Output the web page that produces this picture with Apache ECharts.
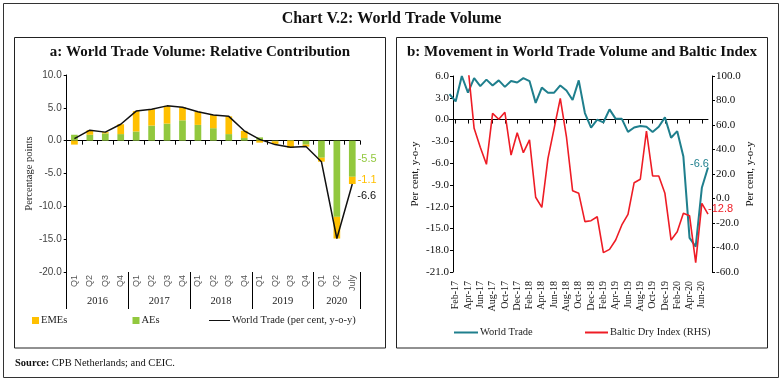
<!DOCTYPE html>
<html><head><meta charset="utf-8">
<script src="https://cdn.jsdelivr.net/npm/echarts@6/dist/echarts.min.js"></script>
<style>html,body{margin:0;padding:0;background:#fff}#c{width:783px;height:382px}</style>
</head><body><div id="c"></div>
<script>
// ---- Panel a data ----
const quarters = ['Q1','Q2','Q3','Q4','Q1','Q2','Q3','Q4','Q1','Q2','Q3','Q4','Q1','Q2','Q3','Q4','Q1','Q2','July'];
const years = ['2016','2017','2018','2019','2020'];
const yearSpans = [4,4,4,4,3];
const aes  = [0.9, 0.9, 1.1, 1.0, 1.4, 2.3, 2.6, 3.1, 2.4, 1.9, 1.0, 0.4, 0.5, -0.1, 0.1, -0.6, -2.6, -11.6, -5.5];
const emes = [-0.6, 0.7, 0.2, 1.5, 3.1, 2.5, 2.7, 2.0, 2.0, 2.0, 2.7, 1.1, -0.3, -0.4, -1.1, -0.3, -0.6, -3.3, -1.1];
const worldQ = [0.3, 1.6, 1.3, 2.5, 4.5, 4.8, 5.3, 5.1, 4.4, 3.9, 3.7, 1.5, 0.2, -0.6, -1.0, -0.9, -3.2, -14.9, -6.6];

// ---- Panel b data ----
const months = ['Jan-17','Feb-17','Mar-17','Apr-17','May-17','Jun-17','Jul-17','Aug-17','Sep-17','Oct-17','Nov-17','Dec-17',
  'Jan-18','Feb-18','Mar-18','Apr-18','May-18','Jun-18','Jul-18','Aug-18','Sep-18','Oct-18','Nov-18','Dec-18',
  'Jan-19','Feb-19','Mar-19','Apr-19','May-19','Jun-19','Jul-19','Aug-19','Sep-19','Oct-19','Nov-19','Dec-19',
  'Jan-20','Feb-20','Mar-20','Apr-20','May-20','Jun-20','Jul-20'];
const worldTrade = [3.5, 2.5, 6.0, 3.7, 5.7, 4.6, 5.5, 4.7, 5.4, 4.5, 5.3, 5.1,
  5.7, 5.3, 2.3, 4.4, 3.7, 3.7, 4.7, 4.0, 2.7, 5.4, 0.9, -1.1,
  0.0, -0.4, 1.4, 0.1, 0.1, -1.7, -1.1, -0.9, -1.0, -1.7, -1.0, 0.3,
  -2.5, -1.6, -5.1, -16.3, -17.5, -9.4, -6.6];
const baltic = [140, 140, 195, 108, 57.3, 41.8, 27.9, 69.5, 64.7, 70.4, 35.5, 53.7,
  37.4, 47.8, 1.0, -7.2, 32.8, 57.3, 81.8, 50.4, 6.4, 4.2, -18.9, -18.1,
  -14.9, -44.2, -41.5, -33.9, -21.6, -12.9, 12.9, 15.7, 55.1, 18.4, 18.4, 4.2,
  -33.9, -27.1, -12.1, -14.0, -52.4, -4.0, -12.8];

const SERIF = '"Liberation Serif", "DejaVu Serif", serif';
const SANS = '"Liberation Sans", Arial, sans-serif';
const GREEN = '#92C83E', ORANGE = '#FFC000', TEAL = '#1F7F8D', RED = '#EE1C25';

const yearCenters = [];
(function(){ let s = 0; yearSpans.forEach(n => { yearCenters.push(s + n / 2); s += n; }); })();
const yearBounds = [];
(function(){ let s = 0; yearSpans.forEach(n => { yearBounds.push(s); s += n; }); })();

const lastQ = quarters.length - 1;
const chart = echarts.init(document.getElementById('c'), null, {renderer: 'canvas', width: 783, height: 382});

const legendText = {fontFamily: SERIF, fontSize: 10.5, color: '#222', padding: [0, 0, 0, -3]};

const option = {
  animation: false,
  backgroundColor: '#fff',
  graphic: [
    {type: 'rect', shape: {x: 3.5, y: 3.5, width: 775, height: 374}, style: {fill: 'none', stroke: '#333', lineWidth: 1}},
    {type: 'rect', shape: {x: 14.5, y: 37.5, width: 371, height: 310.5}, style: {fill: 'none', stroke: '#222', lineWidth: 1}},
    {type: 'rect', shape: {x: 396.5, y: 37.5, width: 371, height: 310.5}, style: {fill: 'none', stroke: '#222', lineWidth: 1}},
    {type: 'text', style: {text: 'Chart V.2: World Trade Volume', x: 391.5, y: 19, align: 'center', verticalAlign: 'middle', font: '600 16px ' + SERIF, fill: '#111'}},
    {type: 'text', style: {text: 'a: World Trade Volume: Relative Contribution', x: 200, y: 52, align: 'center', verticalAlign: 'middle', font: '600 15px ' + SERIF, fill: '#111'}},
    {type: 'text', style: {text: 'b: Movement in World Trade Volume and Baltic Index', x: 582, y: 52, align: 'center', verticalAlign: 'middle', font: '600 15px ' + SERIF, fill: '#111'}},
    {type: 'text', style: {text: '{b|Source:} CPB Netherlands; and CEIC.', x: 15, y: 363, verticalAlign: 'middle', font: '10.5px ' + SERIF, fill: '#111',
      rich: {b: {fontWeight: 'bold', fontFamily: SERIF, fontSize: 10.5, fill: '#111'}}}}
  ],
  grid: [
    {left: 66.7, top: 75, width: 293.3, height: 197},
    {left: 449.5, top: 76, width: 258.5, height: 196}
  ],
  legend: [
    {data: [{name: 'EMEs', icon: 'rect'}], left: 32, top: 315, padding: 0, itemWidth: 7, itemHeight: 7, selectedMode: false, textStyle: legendText},
    {data: [{name: 'AEs', icon: 'rect'}], left: 132.5, top: 315, padding: 0, itemWidth: 7, itemHeight: 7, selectedMode: false, textStyle: legendText},
    {data: [{name: 'World Trade (per cent, y-o-y)', icon: 'rect'}], left: 209, top: 315, padding: 0, itemWidth: 21, itemHeight: 1, selectedMode: false, textStyle: legendText},
    {data: [{name: 'World Trade', icon: 'rect'}], left: 454, top: 327, padding: 0, itemWidth: 24, itemHeight: 2, selectedMode: false, textStyle: legendText},
    {data: [{name: 'Baltic Dry Index (RHS)', icon: 'rect'}], left: 585, top: 327, padding: 0, itemWidth: 23, itemHeight: 2, selectedMode: false, textStyle: legendText}
  ],
  xAxis: [
    {gridIndex: 0, type: 'category', data: quarters, boundaryGap: true,
      axisLine: {onZero: true, onZeroAxisIndex: 0, lineStyle: {color: '#000', width: 1}},
      axisTick: {show: true, length: 4, interval: 0, lineStyle: {color: '#000'}},
      axisLabel: {show: false}, splitLine: {show: false}},
    {gridIndex: 0, type: 'category', data: quarters, boundaryGap: true, position: 'bottom',
      axisLine: {show: false, onZero: false},
      axisTick: {show: true, length: 37, interval: (i) => yearBounds.indexOf(i) >= 0, lineStyle: {color: '#000'}},
      axisLabel: {show: true, rotate: 90, margin: 3, interval: 0, fontFamily: SANS, fontSize: 9, color: '#555'},
      splitLine: {show: false}},
    {gridIndex: 0, type: 'value', min: 0, max: quarters.length, interval: 0.5, position: 'bottom', offset: 20,
      axisLine: {show: false, onZero: false}, axisTick: {show: false}, splitLine: {show: false},
      axisLabel: {show: true, margin: 4, fontFamily: SERIF, fontSize: 10.5, color: '#222',
        formatter: (v) => { const k = yearCenters.findIndex(c => Math.abs(c - v) < 0.01); return k >= 0 ? years[k] : ''; }}},
    {gridIndex: 1, type: 'category', data: months, boundaryGap: false,
      axisLine: {onZero: true, onZeroAxisIndex: 1, lineStyle: {color: '#000', width: 1}},
      axisTick: {show: true, length: 4, interval: (i) => i % 2 === 1, lineStyle: {color: '#000'}},
      axisLabel: {show: false}, splitLine: {show: false}},
    {gridIndex: 1, type: 'category', data: months, boundaryGap: false, position: 'bottom',
      axisLine: {show: false, onZero: false}, axisTick: {show: false}, splitLine: {show: false},
      axisLabel: {show: true, rotate: 90, margin: 9, interval: (i) => i % 2 === 1, fontFamily: SERIF, fontSize: 10, color: '#111'}}
  ],
  yAxis: [
    {gridIndex: 0, type: 'value', min: -20, max: 10, interval: 5,
      axisLine: {show: true, lineStyle: {color: '#000'}}, axisTick: {show: true, length: 3, lineStyle: {color: '#000'}},
      splitLine: {show: false},
      axisLabel: {margin: 5, formatter: (v) => v.toFixed(1), fontFamily: SANS, fontSize: 10, color: '#444'},
      name: 'Percentage points', nameLocation: 'middle', nameRotate: 90, nameGap: 31,
      nameTextStyle: {fontFamily: SERIF, fontSize: 10.5, color: '#222'}},
    {gridIndex: 1, type: 'value', min: -21, max: 6, interval: 3, position: 'left', offset: -3.5,
      axisLine: {show: true, onZero: false, lineStyle: {color: '#000'}}, axisTick: {show: true, length: 3, lineStyle: {color: '#000'}},
      splitLine: {show: false},
      axisLabel: {margin: 4, formatter: (v) => v.toFixed(1), fontFamily: SERIF, fontSize: 11, color: '#111'},
      name: 'Per cent, y-o-y', nameLocation: 'middle', nameRotate: 90, nameGap: 32,
      nameTextStyle: {fontFamily: SERIF, fontSize: 11, color: '#111'}},
    {gridIndex: 1, type: 'value', min: -60, max: 100, interval: 20, position: 'right', offset: 4,
      axisLine: {show: true, onZero: false, lineStyle: {color: '#000'}}, axisTick: {show: true, length: 3, lineStyle: {color: '#000'}},
      splitLine: {show: false},
      axisLabel: {margin: 4, formatter: (v) => v.toFixed(1), fontFamily: SERIF, fontSize: 11, color: '#111'},
      name: 'Per cent, y-o-y', nameLocation: 'middle', nameRotate: 90, nameGap: 32,
      nameTextStyle: {fontFamily: SERIF, fontSize: 11, color: '#111'}}
  ],
  series: [
    {name: 'AEs', type: 'bar', xAxisIndex: 0, yAxisIndex: 0, stack: 'q', data: aes, barWidth: 6.7,
      itemStyle: {color: GREEN},
      label: {show: true, position: 'right', distance: 2, color: GREEN, fontFamily: SANS, fontSize: 11,
        formatter: (p) => p.dataIndex === lastQ ? p.value.toFixed(1) : ''}},
    {name: 'EMEs', type: 'bar', xAxisIndex: 0, yAxisIndex: 0, stack: 'q', data: emes, barWidth: 6.7,
      itemStyle: {color: ORANGE},
      label: {show: true, position: 'right', distance: 2, color: ORANGE, fontFamily: SANS, fontSize: 11,
        formatter: (p) => p.dataIndex === lastQ ? p.value.toFixed(1) : ''}},
    {name: 'World Trade (per cent, y-o-y)', type: 'line', xAxisIndex: 0, yAxisIndex: 0, data: worldQ,
      symbol: 'none', lineStyle: {color: '#111', width: 1.5}, itemStyle: {color: '#111'},
      endLabel: {show: true, distance: 5, offset: [0, 12], color: '#111', fontFamily: SANS, fontSize: 11,
        formatter: (p) => Number(p.value).toFixed(1)}},
    {name: 'World Trade', type: 'line', xAxisIndex: 3, yAxisIndex: 1, data: worldTrade,
      symbol: 'none', lineStyle: {color: TEAL, width: 2}, itemStyle: {color: TEAL},
      endLabel: {show: true, distance: 5, offset: [-23, -3], color: TEAL, fontFamily: SANS, fontSize: 11,
        formatter: (p) => Number(p.value).toFixed(1)}},
    {name: 'Baltic Dry Index (RHS)', type: 'line', xAxisIndex: 3, yAxisIndex: 2, data: baltic,
      symbol: 'none', lineStyle: {color: RED, width: 1.6}, itemStyle: {color: RED},
      endLabel: {show: true, distance: 0, offset: [0, -5], color: RED, fontFamily: SANS, fontSize: 11,
        formatter: (p) => Number(p.value).toFixed(1)}}
  ]
};
chart.setOption(option);
</script>
</body></html>
